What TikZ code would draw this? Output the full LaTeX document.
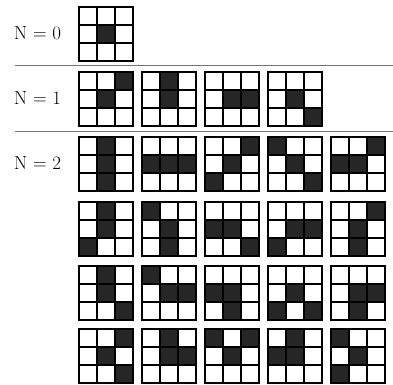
\documentclass[tikz,border=0pt]{standalone}
\usepackage{tikz}

% one 3x3 pattern: top-left corner (x,y) and list of dark cells row/col
\newcommand{\patgrid}[3]{%
    \begin{scope}[shift={(#1,#2)}]
        \foreach \r/\c in {#3} \fill[cell] (\c*18,\r*18) rectangle ++(18,18);
        \foreach \k in {0,18,36,54} {
            \draw[gridline] (\k,0) -- (\k,54);
            \draw[gridline] (0,\k) -- (54,\k);
        }
    \end{scope}}

\begin{document}
\begin{tikzpicture}[
        x=1bp, y=-1bp,
        cell/.style={fill=black!85},
        gridline/.style={draw=black, line width=1.1pt, line cap=rect},
        rowlabel/.style={anchor=west, inner sep=0pt, font=\fontsize{19}{22}\selectfont},
        rule/.style={draw=black!55, line width=0.8pt}
    ]
    \useasboundingbox (0,0) rectangle (393,385);

    % N = 0
    \node[rowlabel] (lab0) at (14,33) {N = 0};
    \patgrid{79}{7}{1/1}

    \coordinate (r1a) at (15,65);
    \coordinate (r1b) at (393,65);
    \draw[rule] (r1a) -- (r1b);

    % N = 1
    \node[rowlabel] (lab1) at (14,98) {N = 1};
    \patgrid{79}{72}{0/2,1/1}
    \patgrid{142}{72}{0/1,1/1}
    \patgrid{205}{72}{1/1,1/2}
    \patgrid{268}{72}{1/1,2/2}

    \coordinate (r2a) at (15,131);
    \coordinate (r2b) at (393,131);
    \draw[rule] (r2a) -- (r2b);

    % N = 2
    \node[rowlabel] (lab2) at (14,163) {N = 2};
    \patgrid{79}{137}{0/1,1/1,2/1}
    \patgrid{142}{137}{1/0,1/1,1/2}
    \patgrid{205}{137}{0/2,1/1,2/0}
    \patgrid{268}{137}{0/0,1/1,2/2}
    \patgrid{331}{137}{0/2,1/0,1/1}

    \patgrid{79}{202}{0/1,1/1,2/0}
    \patgrid{142}{202}{0/0,1/1,2/1}
    \patgrid{205}{202}{1/0,1/1,2/2}
    \patgrid{268}{202}{1/1,1/2,2/0}
    \patgrid{331}{202}{0/2,1/1,2/1}

    \patgrid{79}{266}{0/1,1/1,2/2}
    \patgrid{142}{266}{0/0,1/1,1/2}
    \patgrid{205}{266}{1/0,1/1,2/1}
    \patgrid{268}{266}{1/1,2/0,2/2}
    \patgrid{331}{266}{1/1,1/2,2/1}

    \patgrid{79}{329}{0/2,1/1,2/2}
    \patgrid{142}{329}{0/1,1/1,1/2}
    \patgrid{205}{329}{0/0,0/2,1/1}
    \patgrid{268}{329}{0/1,1/0,1/1}
    \patgrid{331}{329}{0/0,1/1,2/0}
\end{tikzpicture}
\end{document}
